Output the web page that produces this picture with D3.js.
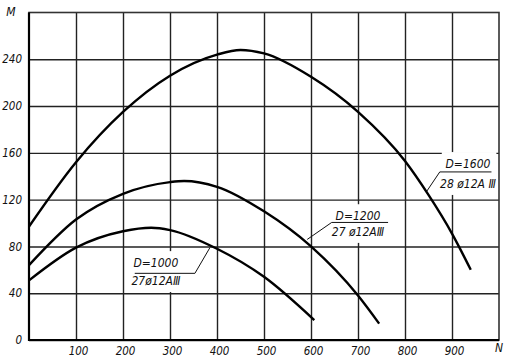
<!DOCTYPE html>
<html>
<head>
<meta charset="utf-8">
<script src="https://cdn.jsdelivr.net/npm/d3@7"></script>
<style>
  body { margin: 0; background: #fff; }
  text { font-family: "DejaVu Sans Condensed", "Liberation Sans Narrow", sans-serif; font-style: italic; fill: #111; }
</style>
</head>
<body>
<script>
// curve values: [N, M]
var curve1600 = [[0, 97], [100, 152], [200, 195], [300, 226], [400, 244], [450, 248], [500, 245], [600, 225], [700, 195], [800, 153], [850, 124], [900, 91], [940, 60]];
var curve1200 = [[0, 64], [100, 103], [200, 125], [300, 135], [330, 136], [400, 131], [500, 110], [600, 80], [700, 38], [745, 14]];
var curve1000 = [[0, 51], [100, 79], [200, 93], [260, 96], [300, 94], [400, 78], [500, 54], [607, 17]];

var xTicks = [100, 200, 300, 400, 500, 600, 700, 800, 900];
var yTicks = [0, 40, 80, 120, 160, 200, 240];

// annotation labels in data units; leader attaches to the left or right end of the rule
var notes = [
  { l1: "D=1600", l2: "28 ø12A Ⅲ", tx: 934, ty1: 147, ty2: 130, lineY: 143.7, x0: 874, x1: 984, ex: 846, ey: 127, side: "left" },
  { l1: "D=1200", l2: "27 ø12AⅢ", tx: 700, ty1: 102.4, ty2: 89, lineY: 100.5, x0: 644, x1: 764, ex: 592, ey: 86, side: "left" },
  { l1: "D=1000", l2: "27ø12AⅢ", tx: 270, ty1: 62.3, ty2: 47, lineY: 57, x0: 225, x1: 353, ex: 385, ey: 79, side: "right" }
];

var W = 511, H = 362;
var x = d3.scaleLinear().domain([0, 1000]).range([29, 499]);
var y = d3.scaleLinear().domain([0, 280]).range([340, 12.5]);

var svg = d3.select("body").append("svg")
    .attr("width", W)
    .attr("height", H);

// grid + tick labels
var yAxis = svg.append("g")
    .attr("transform", "translate(" + x(0) + ",0)")
    .call(d3.axisLeft(y).tickValues(yTicks).tickSize(-(x(1000) - x(0))).tickPadding(7).tickFormat(d3.format("d")));
yAxis.select(".domain").remove();
yAxis.selectAll("line").attr("stroke", "#222").attr("stroke-width", 1.4);
yAxis.selectAll("text").attr("font-size", 11.5).attr("fill", "#111");

var xAxis = svg.append("g")
    .attr("transform", "translate(0," + y(0) + ")")
    .call(d3.axisBottom(x).tickValues(xTicks).tickSize(-(y(0) - y(280))).tickPadding(7).tickFormat(d3.format("d")));
xAxis.select(".domain").remove();
xAxis.selectAll("line").attr("stroke", "#222").attr("stroke-width", 1.4);
xAxis.selectAll("text").attr("font-size", 11.5).attr("dx", 2).attr("fill", "#111");

// frame
svg.append("rect")
    .attr("x", x(0)).attr("y", y(280))
    .attr("width", x(1000) - x(0)).attr("height", y(0) - y(280))
    .attr("fill", "none").attr("stroke", "#333").attr("stroke-width", 1.6);
svg.append("path")
    .attr("d", "M" + x(0) + "," + y(280) + "V" + y(0) + "H" + x(1000))
    .attr("fill", "none").attr("stroke", "#000").attr("stroke-width", 2.2);

svg.append("text").attr("x", 11).attr("y", 16).attr("font-size", 12).attr("text-anchor", "middle").text("M");
svg.append("text").attr("x", 499).attr("y", 352).attr("font-size", 12).attr("text-anchor", "middle").text("N");

var noteG = svg.append("g");
var curveG = svg.append("g");

var line = d3.line()
    .x(function (d) { return x(d[0]); })
    .y(function (d) { return y(d[1]); })
    .curve(d3.curveMonotoneX);

[curve1600, curve1200, curve1000].forEach(function (c) {
  curveG.append("path")
      .attr("d", line(c))
      .attr("fill", "none")
      .attr("stroke", "#000")
      .attr("stroke-width", 2.4);
});

notes.forEach(function (n) {
  var g = noteG.append("g");
  var box = g.append("rect").attr("fill", "#fff");
  g.append("text").attr("x", x(n.tx)).attr("y", y(n.ty1)).attr("text-anchor", "middle").attr("font-size", 12).text(n.l1);
  g.append("text").attr("x", x(n.tx)).attr("y", y(n.ty2)).attr("text-anchor", "middle").attr("font-size", 12).text(n.l2);
  var bb = g.node().getBBox();
  var bx0 = Math.min(bb.x, x(n.x0)), bx1 = Math.max(bb.x + bb.width, x(n.x1));
  box.attr("x", bx0 + 2).attr("y", bb.y - 5)
     .attr("width", bx1 - bx0 - 2).attr("height", bb.height + 9);
  var d = n.side === "left"
      ? "M" + x(n.ex) + "," + y(n.ey) + "L" + x(n.x0) + "," + y(n.lineY) + "H" + x(n.x1)
      : "M" + x(n.x0) + "," + y(n.lineY) + "H" + x(n.x1) + "L" + x(n.ex) + "," + y(n.ey);
  g.append("path")
      .attr("d", d)
      .attr("fill", "none").attr("stroke", "#111").attr("stroke-width", 1);
});
</script>
</body>
</html>
